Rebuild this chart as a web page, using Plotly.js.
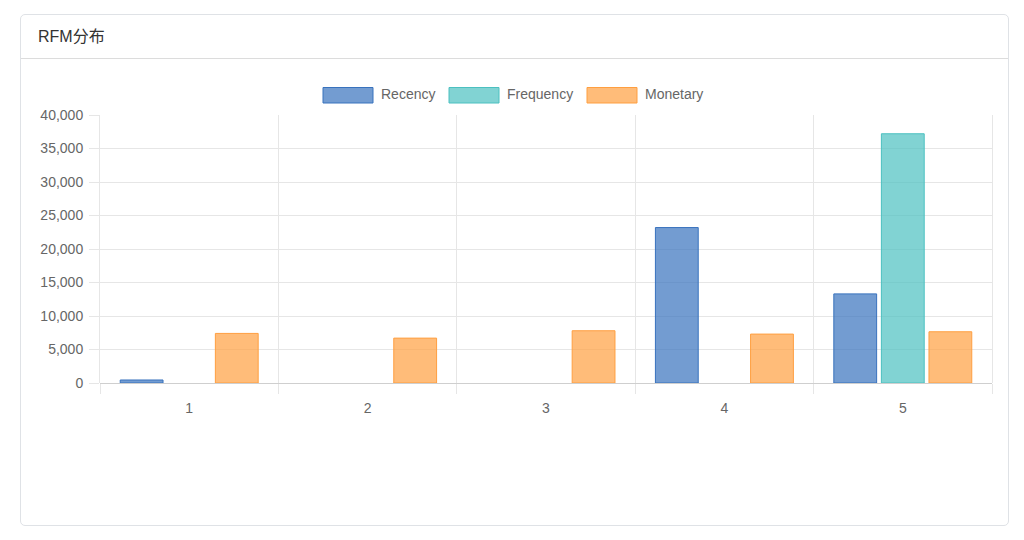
<!DOCTYPE html>
<html>
<head>
<meta charset="utf-8">
<script src="https://cdn.plot.ly/plotly-3.0.1.min.js"></script>
<style>
  html, body { margin: 0; padding: 0; background: #fff; }
  body { width: 1024px; height: 540px; position: relative; overflow: hidden;
         font-family: "Liberation Sans", "Noto Sans CJK SC", sans-serif; }
  .card { position: absolute; left: 20px; top: 14px; width: 989px; height: 512px;
          box-sizing: border-box; border: 1px solid #dfe2e6; border-radius: 5px; }
  .card-head { height: 43px; line-height: 43px; border-bottom: 1px solid #dcdcdc;
               padding-left: 17px; font-size: 16px; color: #333; }
  #chart { position: absolute; left: 22px; top: 59px; width: 987px; height: 466px; }
</style>
</head>
<body>
<div class="card"><div class="card-head">RFM分布</div></div>
<div id="chart"></div>
<script>
var categories = [1, 2, 3, 4, 5];
var tickLabels = ['1', '2', '3', '4', '5'];
var seriesNames = ['Recency', 'Frequency', 'Monetary'];
var recency = [450, 0, 0, 23200, 13300];
var frequency = [0, 0, 0, 0, 37200];
var monetary = [7400, 6700, 7800, 7300, 7650];

var fills = ['rgba(56,114,189,0.7)', 'rgba(75,192,192,0.7)', 'rgba(255,159,64,0.7)'];
var borders = ['rgb(56,114,189)', 'rgb(75,192,192)', 'rgb(255,159,64)'];
var gridColor = '#e6e6e6';
var tickFont = { family: 'Liberation Sans, sans-serif', size: 14, color: '#666' };

var values = [recency, frequency, monetary];
var data = [];
for (var i = 0; i < values.length; i++) {
  data.push({
    type: 'bar',
    name: seriesNames[i],
    x: categories,
    y: values[i],
    marker: {
      color: fills[i],
      // no border on empty bars, like Chart.js
      line: { color: borders[i], width: values[i].map(function (v) { return v > 0 ? 1 : 0; }) }
    },
    hoverinfo: 'x+y+name'
  });
}

// custom legend (Chart.js style wide boxes), positions in page pixels
var plotLeft = 100, plotWidth = 892, plotBottom = 383, plotHeight = 268;
function px(x) { return (x - plotLeft) / plotWidth; }
function py(y) { return (plotBottom - y) / plotHeight; }
var legendBoxX = [323, 449, 587];
var shapes = [];
var annotations = [];
for (var j = 0; j < seriesNames.length; j++) {
  shapes.push({
    type: 'rect', xref: 'paper', yref: 'paper',
    x0: px(legendBoxX[j]), x1: px(legendBoxX[j] + 50),
    y0: py(103), y1: py(87.5),
    fillcolor: fills[j], line: { color: borders[j], width: 1 }
  });
  annotations.push({
    xref: 'paper', yref: 'paper',
    x: px(legendBoxX[j] + 56), y: py(94.5),
    xanchor: 'left', yanchor: 'middle',
    text: seriesNames[j], showarrow: false,
    font: tickFont
  });
}

var layout = {
  width: 987,
  height: 466,
  margin: { l: 78, r: 17, t: 56, b: 142, pad: 0 },
  paper_bgcolor: 'rgba(0,0,0,0)',
  plot_bgcolor: 'rgba(0,0,0,0)',
  showlegend: false,
  bargap: 0.2,
  bargroupgap: 0.1,
  barmode: 'group',
  xaxis: {
    range: [0.5, 5.5],
    tickmode: 'array',
    tickvals: categories,
    ticktext: tickLabels,
    ticks: '',
    showgrid: false,
    zeroline: false,
    showline: false,
    tickfont: tickFont,
    ticklabelstandoff: 15,
    fixedrange: true,
    minor: {
      tickmode: 'linear', tick0: 0.5, dtick: 1,
      ticks: 'outside', ticklen: 10, tickcolor: gridColor, tickwidth: 1,
      showgrid: true, gridcolor: gridColor, gridwidth: 1
    }
  },
  yaxis: {
    range: [0, 40000],
    tickmode: 'linear', tick0: 0, dtick: 5000,
    tickformat: ',d',
    ticks: 'outside', ticklen: 10, tickcolor: gridColor, tickwidth: 1,
    showgrid: true, gridcolor: gridColor, gridwidth: 1,
    zeroline: true, zerolinecolor: '#cfcfcf', zerolinewidth: 1,
    showline: true, linecolor: gridColor, linewidth: 1, mirror: true,
    tickfont: tickFont,
    ticklabelstandoff: 3,
    fixedrange: true
  },
  shapes: shapes,
  annotations: annotations
};

Plotly.newPlot('chart', data, layout, { displayModeBar: false, staticPlot: true });
</script>
</body>
</html>
